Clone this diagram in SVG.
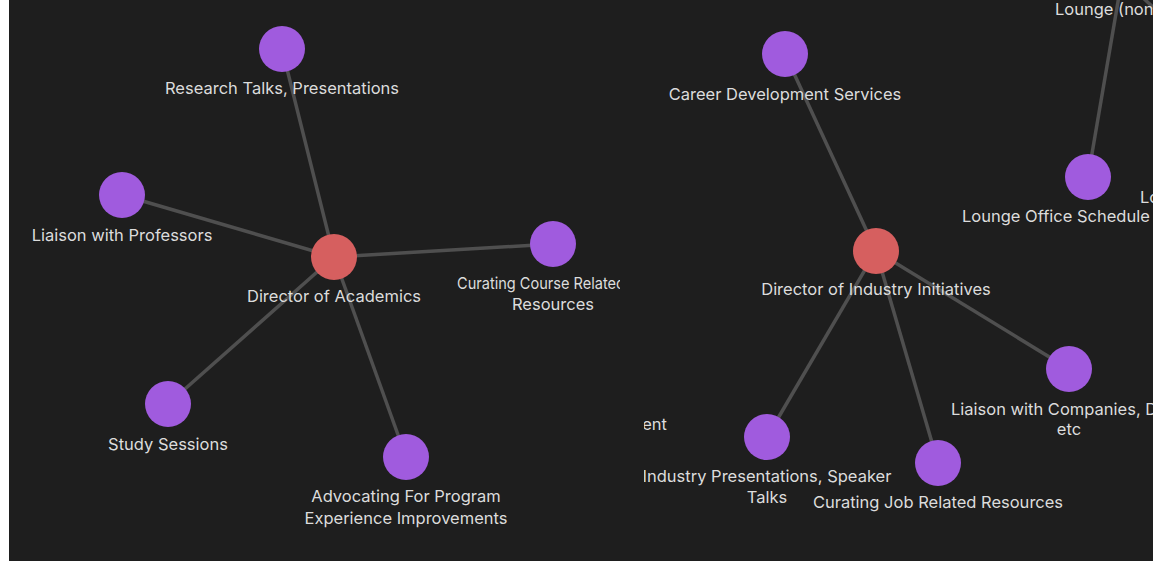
<svg xmlns="http://www.w3.org/2000/svg" width="1153" height="561" viewBox="0 0 1153 561">
<style>
.bg{fill:#1e1e1e}
.e{stroke:#4f4f4f;stroke-width:3.5;fill:none}
.n{fill:#a05bde}
.h{fill:#d65f5f}
.t{font-family:Inter,"Liberation Sans",sans-serif;font-size:16.5px;fill:#dcdcdc;text-anchor:middle}
.s{text-anchor:start}
.en{text-anchor:end}
</style>
<defs>
<clipPath id="cl"><rect x="9" y="0" width="611" height="561"/></clipPath>
<clipPath id="cr"><rect x="644" y="0" width="509" height="561"/></clipPath>
</defs>
<rect width="1153" height="561" fill="#ffffff"/>
<rect class="bg" x="9" y="0" width="1144" height="561"/>
<g id="connectors">
<line class="e" x1="334" y1="257" x2="282" y2="49"/>
<line class="e" x1="334" y1="257" x2="122" y2="195"/>
<line class="e" x1="334" y1="257" x2="553" y2="244"/>
<line class="e" x1="334" y1="257" x2="168" y2="404"/>
<line class="e" x1="334" y1="257" x2="406" y2="457"/>
<line class="e" x1="876" y1="251" x2="785" y2="54"/>
<line class="e" x1="876" y1="251" x2="1069" y2="369"/>
<line class="e" x1="876" y1="251" x2="938" y2="463"/>
<line class="e" x1="876" y1="251" x2="767" y2="437"/>
<line class="e" x1="1088" y1="177" x2="1120" y2="-10"/>
<line class="e" x1="1140" y1="-5" x2="1156" y2="10"/>
</g>
<g id="director-academics"><circle class="h" cx="334" cy="257" r="23"/><text class="t" x="334" y="302">Director of Academics</text></g>
<g id="research-talks"><circle class="n" cx="282" cy="49" r="23"/><text class="t" x="282" y="94">Research Talks, Presentations</text></g>
<g id="liaison-professors"><circle class="n" cx="122" cy="195" r="23"/><text class="t" x="122" y="241">Liaison with Professors</text></g>
<g id="curating-course" clip-path="url(#cl)"><circle class="n" cx="553" cy="244" r="23"/><text class="t s" x="457" y="289" textLength="168" lengthAdjust="spacingAndGlyphs">Curating Course Related</text><text class="t" x="553" y="310">Resources</text></g>
<g id="study-sessions"><circle class="n" cx="168" cy="404" r="23"/><text class="t" x="168" y="450">Study Sessions</text></g>
<g id="advocating"><circle class="n" cx="406" cy="457" r="23"/><text class="t" x="406" y="502">Advocating For Program</text><text class="t" x="406" y="524">Experience Improvements</text></g>
<g id="director-industry"><circle class="h" cx="876" cy="251" r="23"/><text class="t" x="876" y="295">Director of Industry Initiatives</text></g>
<g id="career-dev"><circle class="n" cx="785" cy="54" r="23"/><text class="t" x="785" y="100">Career Development Services</text></g>
<g id="liaison-companies"><circle class="n" cx="1069" cy="369" r="23"/><text class="t s" x="951" y="415">Liaison with Companies, D</text><text class="t" x="1069" y="435">etc</text></g>
<g id="curating-job"><circle class="n" cx="938" cy="463" r="23"/><text class="t" x="938" y="508">Curating Job Related Resources</text></g>
<g id="industry-presentations" clip-path="url(#cr)"><circle class="n" cx="767" cy="437" r="23"/><text class="t" x="767" y="482">Industry Presentations, Speaker</text><text class="t" x="767" y="503">Talks</text></g>
<g id="fragment-ent" clip-path="url(#cr)"><text class="t en" x="667" y="430">ent</text></g>
<g id="lounge-office"><circle class="n" cx="1088" cy="177" r="23"/><text class="t s" x="962" y="222">Lounge Office Schedule</text></g>
<g id="lounge-non"><text class="t s" x="1055" y="15">Lounge (non-</text></g>
<g id="lo-fragment"><text class="t s" x="1140" y="203">Lo</text></g>
</svg>
